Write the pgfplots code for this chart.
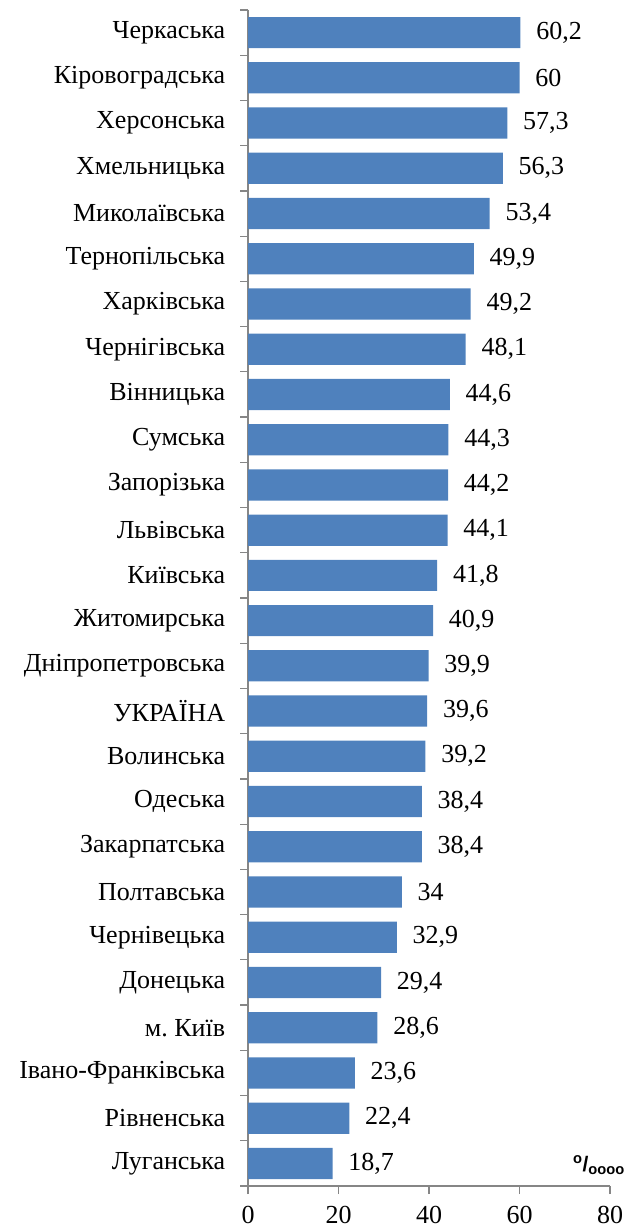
\documentclass[border=0pt]{standalone}
\usepackage{fontspec}
\setmainfont{Liberation Serif}
\newfontfamily\unitfont{Liberation Sans}
\usepackage{pgfplots}
\pgfplotsset{compat=1.18}
\usepackage{pgfplotstable}
\definecolor{barblue}{HTML}{4F81BD}
\definecolor{axisgray}{HTML}{868686}
\frenchspacing

\pgfplotstableread{
idx value
0 60.2
1 60
2 57.3
3 56.3
4 53.4
5 49.9
6 49.2
7 48.1
8 44.6
9 44.3
10 44.2
11 44.1
12 41.8
13 40.9
14 39.9
15 39.6
16 39.2
17 38.4
18 38.4
19 34
20 32.9
21 29.4
22 28.6
23 23.6
24 22.4
25 18.7
}\rates

\begin{document}
\fontsize{26}{31}\selectfont
\begin{tikzpicture}
\begin{axis}[
    scale only axis,
    width=362pt,
    height=1176pt,
    xbar,
    bar width=0.69,
    y dir=reverse,
    ymin=-0.5, ymax=25.5,
    xmin=0, xmax=80,
    xtick={0,20,40,60,80},
    ytick={0,...,25},
    yticklabels={Черкаська,Кіровоградська,Херсонська,Хмельницька,Миколаївська,Тернопільська,Харківська,Чернігівська,Вінницька,Сумська,Запорізька,Львівська,Київська,Житомирська,Дніпропетровська,УКРАЇНА,Волинська,Одеська,Закарпатська,Полтавська,Чернівецька,Донецька,м.\ Київ,Івано-Франківська,Рівненська,Луганська},
    minor ytick={-0.5,0.5,...,25.5},
    axis x line*=bottom,
    axis y line*=left,
    x axis line style={-, draw=axisgray, line width=1.2pt},
    y axis line style={-, draw=axisgray, line width=1.2pt},
    tick align=outside,
    major tick length=8pt,
    minor tick length=8pt,
    y tick style={draw=none},
    minor y tick style={draw=axisgray, line width=1.2pt},
    x tick style={draw=axisgray, line width=1.2pt},
    tick label style={font=\fontsize{26}{31}\selectfont},
    yticklabel style={xshift=-6pt},
    xticklabel style={yshift=-3pt},
    /pgf/number format/assume math mode=true,
    /pgf/number format/use comma,
    nodes near coords,
    nodes near coords style={font=\fontsize{26}{31}\selectfont, anchor=west, xshift=7pt},
    clip=false,
]
\addplot[fill=barblue, draw=none] table[x=value, y=idx] {\rates};
\coordinate (bl) at (rel axis cs:0,0);
\coordinate (tr) at (rel axis cs:1,1);
\node[anchor=base east, inner sep=0pt, font=\unitfont\bfseries\fontsize{21}{24}\selectfont] at ([xshift=15pt,yshift=15pt]rel axis cs:1,0) {\textsuperscript{o}/\textsubscript{oooo}};
\end{axis}
\pgfresetboundingbox
\path ([shift={(-248pt,-45pt)}]bl) rectangle ([shift={(26pt,10pt)}]tr);
\end{tikzpicture}
\end{document}
